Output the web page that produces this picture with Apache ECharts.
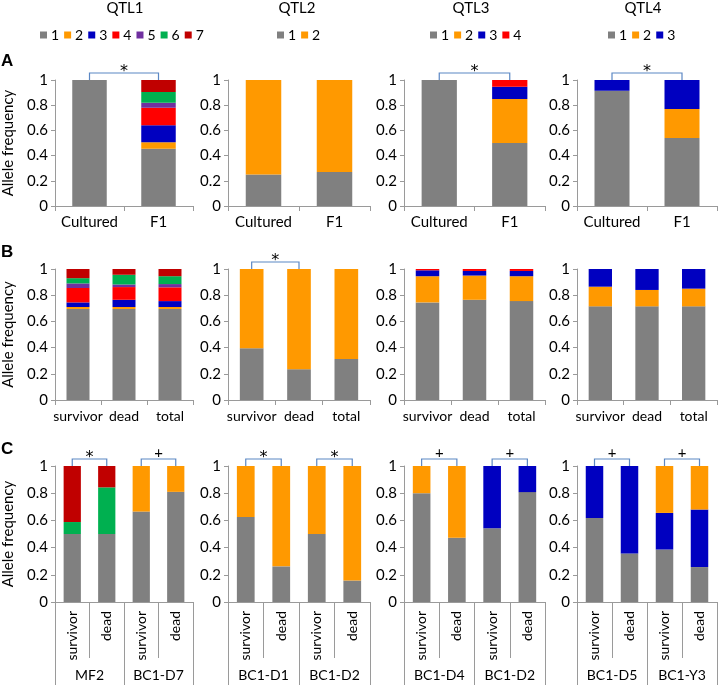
<!DOCTYPE html>
<html>
<head>
<meta charset="utf-8">
<script src="https://cdn.jsdelivr.net/npm/echarts@6/dist/echarts.min.js"></script>
<style>html,body{margin:0;padding:0;background:#fff;}#c{width:718px;height:687px;}</style>
</head>
<body>
<div id="c"></div>
<script>
// ---------- categories ----------
const catsA = ['Cultured', 'F1'];
const catsB = ['survivor', 'dead', 'total'];
const catsC = ['survivor', 'dead', 'survivor', 'dead'];
const groupsC1 = ['MF2', 'BC1-D7'];
const groupsC2 = ['BC1-D1', 'BC1-D2'];
const groupsC3 = ['BC1-D4', 'BC1-D2'];
const groupsC4 = ['BC1-D5', 'BC1-Y3'];
const qtlTitles = ['QTL1', 'QTL2', 'QTL3', 'QTL4'];
const legendQTL1 = ['1', '2', '3', '4', '5', '6', '7'];
const legendQTL2 = ['1', '2'];
const legendQTL3 = ['1', '2', '3', '4'];
const legendQTL4 = ['1', '2', '3'];
const yTicks = [0, 0.2, 0.4, 0.6, 0.8, 1];

// ---------- values (one row per allele, one column per category) ----------
const A1_alleles = ['1', '2', '3', '4', '5', '6', '7'];
const A1_values = [[1.0, 0.455], [0, 0.05], [0, 0.135], [0, 0.14], [0, 0.04], [0, 0.085], [0, 0.095]];
const A2_alleles = ['1', '2'];
const A2_values = [[0.25, 0.27], [0.75, 0.73]];
const A3_alleles = ['1', '2', '3', '4'];
const A3_values = [[1.0, 0.5], [0, 0.35], [0, 0.097], [0, 0.053]];
const A4_alleles = ['1', '2', '3'];
const A4_values = [[0.915, 0.54], [0, 0.23], [0.085, 0.23]];

const B1_alleles = ['1', '2', '3', '4', '5', '6', '7'];
const B1_values = [
  [0.695, 0.695, 0.695], [0.015, 0.015, 0.015], [0.035, 0.055, 0.045],
  [0.11, 0.097, 0.105], [0.035, 0.02, 0.025], [0.04, 0.074, 0.06], [0.07, 0.044, 0.055]];
const B2_alleles = ['1', '2'];
const B2_values = [[0.395, 0.235, 0.313], [0.605, 0.765, 0.687]];
const B3_alleles = ['1', '2', '3', '4'];
const B3_values = [[0.745, 0.765, 0.755], [0.2, 0.185, 0.19], [0.045, 0.035, 0.04], [0.01, 0.015, 0.015]];
const B4_alleles = ['1', '2', '3'];
const B4_values = [[0.715, 0.715, 0.715], [0.15, 0.125, 0.135], [0.135, 0.16, 0.15]];

const C1_alleles = ['1', '2', '6', '7'];
const C1_values = [[0.5, 0.5, 0.665, 0.81], [0, 0, 0.335, 0.19], [0.088, 0.343, 0, 0], [0.412, 0.157, 0, 0]];
const C2_alleles = ['1', '2'];
const C2_values = [[0.625, 0.262, 0.5, 0.158], [0.375, 0.738, 0.5, 0.842]];
const C3_alleles = ['1', '2', '3'];
const C3_values = [[0.8, 0.472, 0.543, 0.808], [0.2, 0.528, 0, 0], [0, 0, 0.457, 0.192]];
const C4_alleles = ['1', '3', '2'];
const C4_values = [[0.617, 0.357, 0.386, 0.257], [0.383, 0.643, 0.269, 0.423], [0, 0, 0.345, 0.32]];

// significance brackets: [from category, to category, symbol]
const A1_sig = [[0, 1, '*']];
const A2_sig = [];
const A3_sig = [[0, 1, '*']];
const A4_sig = [[0, 1, '*']];
const B1_sig = [];
const B2_sig = [[0, 1, '*']];
const B3_sig = [];
const B4_sig = [];
const C1_sig = [[0, 1, '*'], [2, 3, '+']];
const C2_sig = [[0, 1, '*'], [2, 3, '*']];
const C3_sig = [[0, 1, '+'], [2, 3, '+']];
const C4_sig = [[0, 1, '+'], [2, 3, '+']];

// ---------- styling ----------
const FONT = 'Lato';
const alleleColors = {'1': '#808080', '2': '#FF9900', '3': '#0000C0', '4': '#FF0000', '5': '#7030A0', '6': '#00B050', '7': '#C00000'};
const axisColor = '#9a9a9a';
const bracketColor = '#5b87c4';
const cols = [{left: 53, width: 140}, {left: 228, width: 142}, {left: 404, width: 141}, {left: 577, width: 140}];
const rows = [{top: 80, height: 126}, {top: 269, height: 131}, {top: 466, height: 136}];

const panels = [
  {r: 0, c: 0, cats: catsA, al: A1_alleles, v: A1_values, sig: A1_sig},
  {r: 0, c: 1, cats: catsA, al: A2_alleles, v: A2_values, sig: A2_sig},
  {r: 0, c: 2, cats: catsA, al: A3_alleles, v: A3_values, sig: A3_sig},
  {r: 0, c: 3, cats: catsA, al: A4_alleles, v: A4_values, sig: A4_sig},
  {r: 1, c: 0, cats: catsB, al: B1_alleles, v: B1_values, sig: B1_sig},
  {r: 1, c: 1, cats: catsB, al: B2_alleles, v: B2_values, sig: B2_sig},
  {r: 1, c: 2, cats: catsB, al: B3_alleles, v: B3_values, sig: B3_sig},
  {r: 1, c: 3, cats: catsB, al: B4_alleles, v: B4_values, sig: B4_sig},
  {r: 2, c: 0, cats: catsC, groups: groupsC1, al: C1_alleles, v: C1_values, sig: C1_sig},
  {r: 2, c: 1, cats: catsC, groups: groupsC2, al: C2_alleles, v: C2_values, sig: C2_sig},
  {r: 2, c: 2, cats: catsC, groups: groupsC3, al: C3_alleles, v: C3_values, sig: C3_sig},
  {r: 2, c: 3, cats: catsC, groups: groupsC4, al: C4_alleles, v: C4_values, sig: C4_sig}
];

const grid = [], xAxis = [], yAxis = [], series = [];
panels.forEach((p, i) => {
  const col = cols[p.c], row = rows[p.r];
  grid.push({left: col.left, top: row.top, width: col.width, height: row.height});
  const xi = xAxis.length;
  xAxis.push({
    type: 'category', gridIndex: i, data: p.cats,
    axisLine: {lineStyle: {color: axisColor, width: 1}},
    axisTick: {show: true, interval: 0, length: p.r === 2 ? 56 : 5, lineStyle: {color: axisColor}},
    axisLabel: {interval: 0, color: '#000', fontFamily: FONT,
      fontSize: p.r === 0 ? 15 : 14, margin: 9, rotate: p.r === 2 ? 90 : 0}
  });
  if (p.groups) {
    xAxis.push({
      type: 'category', gridIndex: i, data: p.groups, position: 'bottom', offset: 56,
      axisLine: {show: false},
      axisTick: {show: true, interval: 0, length: 27, lineStyle: {color: axisColor}},
      axisLabel: {interval: 0, color: '#000', fontFamily: FONT, fontSize: 14, margin: 10}
    });
  }
  yAxis.push({
    type: 'value', gridIndex: i, min: 0, max: 1, interval: 0.2,
    splitLine: {show: false},
    axisLine: {show: true, lineStyle: {color: axisColor}},
    axisTick: {show: true, length: 4, lineStyle: {color: axisColor}},
    axisLabel: {color: '#000', fontFamily: FONT, fontSize: 15, margin: 7,
      formatter: v => String(yTicks.find(t => Math.abs(t - v) < 1e-9) ?? v)},
    name: p.c === 0 ? 'Allele frequency' : '',
    nameLocation: 'middle', nameRotate: 90, nameGap: 39,
    nameTextStyle: {color: '#000', fontFamily: FONT, fontSize: 15}
  });
  p.al.forEach((a, k) => {
    series.push({
      type: 'bar', name: a, xAxisIndex: xi, yAxisIndex: i, stack: 'panel' + i,
      barWidth: '50%', data: p.v[k], itemStyle: {color: alleleColors[a]},
      emphasis: {disabled: true}
    });
  });
  if (p.sig.length) {
    const sig = p.sig;
    series.push({
      type: 'custom', name: 'sig' + i, xAxisIndex: xi, yAxisIndex: i, clip: false, z: 5,
      encode: {x: 0, y: 1},
      data: sig.map(s => [s[0], 1, s[1]]),
      renderItem: function (params, api) {
        const sym = sig[params.dataIndex][2];
        const p1 = api.coord([api.value(0), api.value(1)]);
        const p2 = api.coord([api.value(2), api.value(1)]);
        const top = p1[1] - 7;
        return {type: 'group', children: [
          {type: 'polyline', shape: {points: [[p1[0], p1[1]], [p1[0], top], [p2[0], top], [p2[0], p2[1]]]},
            style: {stroke: bracketColor, fill: null, lineWidth: 1.2}},
          {type: 'text', style: {text: sym, x: (p1[0] + p2[0]) / 2, y: top - (sym === '*' ? 1 : 6),
            align: 'center', verticalAlign: 'middle',
            font: (sym === '*' ? '16px DejaVu Sans' : '15px ' + FONT), fill: '#000'}}
        ]};
      }
    });
  }
});

const legendBase = {icon: 'rect', itemWidth: 7, itemHeight: 7, itemGap: 5, padding: 0, top: 28,
  selectedMode: false, textStyle: {fontFamily: FONT, fontSize: 14, color: '#000', padding: [0, 0, 0, -1]}};
const legend = [
  Object.assign({}, legendBase, {data: legendQTL1, left: 40}),
  Object.assign({}, legendBase, {data: legendQTL2, left: 277}),
  Object.assign({}, legendBase, {data: legendQTL3, left: 430}),
  Object.assign({}, legendBase, {data: legendQTL4, left: 608})
];

const titleX = [125, 297, 471, 643];
const graphic = qtlTitles.map((t, i) => ({
  type: 'text', x: titleX[i], y: 8,
  style: {text: t, align: 'center', verticalAlign: 'middle', font: '15px ' + FONT, fill: '#000'}
}));
[['A', 61], ['B', 252], ['C', 449]].forEach(([t, y]) => graphic.push({
  type: 'text', x: 1, y: y,
  style: {text: t, align: 'left', verticalAlign: 'middle', font: 'bold 17px Liberation Sans', fill: '#000'}
}));

const chart = echarts.init(document.getElementById('c'), null, {renderer: 'canvas'});
chart.setOption({
  animation: false,
  backgroundColor: '#fff',
  grid, xAxis, yAxis, series, legend, graphic
});
</script>
</body>
</html>
